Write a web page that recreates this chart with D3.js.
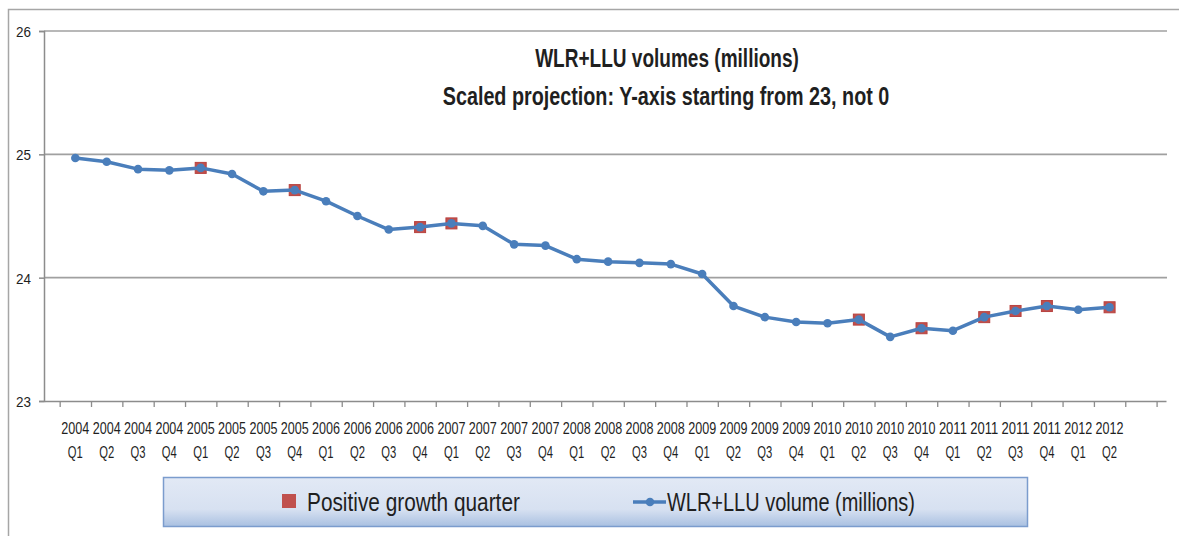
<!DOCTYPE html>
<html>
<head>
<meta charset="utf-8">
<script src="https://cdn.jsdelivr.net/npm/d3@7"></script>
<style>
    body { margin: 0; background: #fff; }
    svg { display: block; }
    text { font-family: "Liberation Sans Narrow", "Liberation Sans", Arial, sans-serif; fill: #1f1f1f; }
</style>
</head>
<body>
<div id="app"></div>
<script>
"use strict";

const categories = [
    "2004 Q1", "2004 Q2", "2004 Q3", "2004 Q4",
    "2005 Q1", "2005 Q2", "2005 Q3", "2005 Q4",
    "2006 Q1", "2006 Q2", "2006 Q3", "2006 Q4",
    "2007 Q1", "2007 Q2", "2007 Q3", "2007 Q4",
    "2008 Q1", "2008 Q2", "2008 Q3", "2008 Q4",
    "2009 Q1", "2009 Q2", "2009 Q3", "2009 Q4",
    "2010 Q1", "2010 Q2", "2010 Q3", "2010 Q4",
    "2011 Q1", "2011 Q2", "2011 Q3", "2011 Q4",
    "2012 Q1", "2012 Q2"
];

// WLR+LLU volume, millions
const volumes = [
    24.97, 24.94, 24.88, 24.87,
    24.89, 24.84, 24.70, 24.71,
    24.62, 24.50, 24.39, 24.41,
    24.44, 24.42, 24.27, 24.26,
    24.15, 24.13, 24.12, 24.11,
    24.03, 23.77, 23.68, 23.64,
    23.63, 23.66, 23.52, 23.59,
    23.57, 23.68, 23.73, 23.77,
    23.74, 23.76
];

const positiveQuarters = [
    "2005 Q1", "2005 Q4", "2006 Q4", "2007 Q1",
    "2010 Q2", "2010 Q4", "2011 Q2", "2011 Q3", "2011 Q4", "2012 Q2"
];

const yTicks = [23, 24, 25, 26];

const titleLines = ["WLR+LLU volumes (millions)", "Scaled projection: Y-axis starting from 23, not 0"];
const legendLabels = ["Positive growth quarter", "WLR+LLU volume (millions)"];

const W = 1179, H = 536;
const blue = "#4a7ebb", red = "#c0504d", grid = "#a0a0a0";

// the source picture has tall, narrow (Calibri-like) text: squeeze each text horizontally to a given width
function squeezedText(parent, str, x, y, size, width, anchor, bold) {
    const t = parent.append("text")
        .attr("text-anchor", anchor)
        .style("font-size", size + "px")
        .style("font-weight", bold ? "bold" : "normal")
        .text(str);
    const natural = t.node().getComputedTextLength();
    t.attr("transform", `translate(${x},${y}) scale(${(width / natural).toFixed(4)},1)`);
    return t;
}

function drawChart() {
    const svg = d3.select("#app").append("svg").attr("width", W).attr("height", H);

    const defs = svg.append("defs");
    const grad = defs.append("linearGradient").attr("id", "legendFill").attr("x1", 0).attr("y1", 0).attr("x2", 0).attr("y2", 1);
    grad.append("stop").attr("offset", "0%").attr("stop-color", "#e2e9f5");
    grad.append("stop").attr("offset", "65%").attr("stop-color", "#d7e1f1");
    grad.append("stop").attr("offset", "100%").attr("stop-color", "#a9c0e1");

    // outer chart border (only top and left are in the frame)
    svg.append("path")
        .attr("d", `M8.5,${H} V9.5 H${W}`)
        .attr("fill", "none").attr("stroke", "#a6a6a6").attr("stroke-width", 1.5);

    const x = d3.scaleLinear().domain([-1, 34.8]).range([44, 1166]);
    const y = d3.scaleLinear().domain([23, 26]).range([401, 31]);

    // gridlines
    svg.append("g").selectAll("line")
        .data(yTicks.filter(t => t > 23))
        .join("line")
        .attr("x1", 44).attr("x2", 1167)
        .attr("y1", d => y(d)).attr("y2", d => y(d))
        .attr("stroke", grid).attr("stroke-width", 1.6);

    // y axis
    const yAxis = svg.append("g")
        .attr("transform", "translate(44,0)")
        .call(d3.axisLeft(y).tickValues(yTicks).tickSize(5).tickFormat(""));
    yAxis.select(".domain").attr("stroke", "#8c8c8c").attr("stroke-width", 1.5);
    yAxis.selectAll(".tick line").attr("stroke", "#8c8c8c").attr("stroke-width", 1.5);
    const yLabels = svg.append("g");
    yTicks.forEach(t => squeezedText(yLabels, String(t), 31, y(t) + 6, 15.5, 15, "end", false));

    // x axis: ticks between categories
    const xTickVals = d3.range(-0.5, 35, 1);
    const xAxis = svg.append("g")
        .attr("transform", `translate(0,${y(23)})`)
        .call(d3.axisBottom(x).tickValues(xTickVals).tickSize(6).tickSizeOuter(0).tickFormat(""));
    xAxis.select(".domain").attr("stroke", "#8c8c8c").attr("stroke-width", 1.5);
    xAxis.selectAll(".tick line").attr("stroke", "#8c8c8c").attr("stroke-width", 1.3);

    const xLabels = svg.append("g");
    categories.forEach((c, i) => {
        const [year, q] = c.split(" ");
        squeezedText(xLabels, year, x(i), 434, 16.5, 28, "middle", false);
        squeezedText(xLabels, q, x(i), 458, 16, 15, "middle", false);
    });

    // positive growth squares (drawn under the line)
    const sq = 11;
    svg.append("g").selectAll("rect")
        .data(categories.map((c, i) => ({ c, i, v: volumes[i] })).filter(d => positiveQuarters.includes(d.c)))
        .join("rect")
        .attr("x", d => x(d.i) - sq / 2).attr("y", d => y(d.v) - sq / 2)
        .attr("width", sq).attr("height", sq)
        .attr("fill", red).attr("stroke", "#b8423f").attr("stroke-width", 1);

    // volume line
    svg.append("path")
        .datum(volumes)
        .attr("d", d3.line().x((d, i) => x(i)).y(d => y(d)))
        .attr("fill", "none").attr("stroke", blue).attr("stroke-width", 3.5)
        .attr("stroke-linejoin", "round");

    svg.append("g").selectAll("circle")
        .data(volumes)
        .join("circle")
        .attr("cx", (d, i) => x(i)).attr("cy", d => y(d))
        .attr("r", 4.3).attr("fill", blue);

    // title
    const title = svg.append("g");
    squeezedText(title, titleLines[0], 667, 67, 26, 264, "middle", true);
    squeezedText(title, titleLines[1], 666, 105, 26, 447, "middle", true);

    // legend
    const legend = svg.append("g");
    legend.append("rect")
        .attr("x", 163.5).attr("y", 477.5).attr("width", 864).attr("height", 49)
        .attr("fill", "url(#legendFill)").attr("stroke", "#7b9ccd").attr("stroke-width", 1.5);
    legend.append("rect")
        .attr("x", 282).attr("y", 494).attr("width", 14).attr("height", 14).attr("fill", red);
    squeezedText(legend, legendLabels[0], 307, 511, 26, 213, "start", false);
    legend.append("line")
        .attr("x1", 633).attr("x2", 666).attr("y1", 502).attr("y2", 502)
        .attr("stroke", blue).attr("stroke-width", 3.5);
    legend.append("circle").attr("cx", 650).attr("cy", 502).attr("r", 4.3).attr("fill", blue);
    squeezedText(legend, legendLabels[1], 667, 511, 26, 248, "start", false);
}

drawChart();
</script>
</body>
</html>
